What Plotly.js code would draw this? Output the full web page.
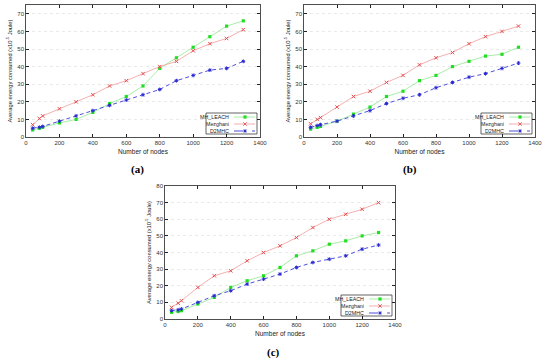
<!DOCTYPE html>
<html><head><meta charset="utf-8">
<script src="https://cdn.plot.ly/plotly-3.0.1.min.js"></script>
<style>html,body{margin:0;padding:0;background:#fff}#c{width:550px;height:361px}</style>
</head><body><div id="c"></div>
<script>
const nodes = [40, 80, 100, 200, 300, 400, 500, 600, 700, 800, 900, 1000, 1100, 1200, 1300];
const seriesNames = ["MH_LEACH", "Mezghani", "D2MHC"];
const panelLabels = ["(a)", "(b)", "(c)"];
const xTitle = "Number of nodes";
const yTitle = "Average energy consumed (x10<sup>-5</sup> Joule)";

const mhLeachA  = [4, 5, 5.5, 8, 10, 14, 19, 23, 29, 39, 45, 51, 57, 63, 66];
const mezghaniA = [7, 10.5, 12, 16, 20, 24, 29, 32, 36, 40, 43, 49, 53, 56, 61];
const d2mhcA    = [5, 5.5, 6, 9, 12, 15, 18, 21, 24, 27, 32, 35, 38, 39, 43];

const mhLeachB  = [4.5, 5.5, 6, 9, 13, 17, 23, 26, 32, 35, 40, 43, 46, 47, 51];
const mezghaniB = [7.5, 10, 11, 17, 23, 26, 31, 35, 41, 45, 48, 53, 57, 60, 63];
const d2mhcB    = [5.5, 6.5, 7, 9, 12, 15, 19, 22, 24, 28, 31, 34, 36, 39, 42];

const mhLeachC  = [4, 4.5, 5, 9, 13, 19, 23, 26, 31, 38, 41, 45, 47, 50, 52];
const mezghaniC = [7, 9.5, 11, 19, 26, 29, 35, 40, 44, 49, 55, 60, 63, 66, 70];
const d2mhcC    = [5, 5.5, 6, 10, 14, 17, 21, 24, 27, 31, 34, 36, 38, 42, 44.5];

const W = 550, H = 361;
const FONT = 'Liberation Sans, Arial, sans-serif';
const styles = [
  {line:{color:'#8fe88f', width:0.8, dash:'solid'}, marker:{color:'#22dd22', symbol:'square', size:3.2}},
  {line:{color:'#f29a9a', width:0.8, dash:'solid'}, marker:{color:'#e55050', symbol:'x-thin-open', size:3.5, line:{width:1,color:'#e55050'}}},
  {line:{color:'#3a3ad8', width:0.9, dash:'4px,3px'}, marker:{color:'#2a2ad0', symbol:'asterisk-open', size:3.2, line:{width:1,color:'#2a2ad0'}}}
];
const panels = [
  {data:[mhLeachA, mezghaniA, d2mhcA], px:[26,260], py:[5,137], yr:[0,75], yt:70, lab:[137,170]},
  {data:[mhLeachB, mezghaniB, d2mhcB], px:[304,535], py:[5,137], yr:[0,75], yt:70, lab:[410,170]},
  {data:[mhLeachC, mezghaniC, d2mhcC], px:[165,395], py:[186,319], yr:[0,80], yt:80, lab:[273,352]}
];
const traces = [], annotations = [], shapes = [];
const layout = {width:W, height:H, margin:{l:0,r:0,t:0,b:0}, paper_bgcolor:'#fff', plot_bgcolor:'#fff',
  showlegend:false, font:{family:FONT, size:6, color:'#333'}};
const fx = p => p / W, fy = p => 1 - p / H;
const seg = (x0, y0, x1, y1, color) => shapes.push({type:'line', xref:'paper', yref:'paper',
  x0:fx(x0), x1:fx(x1), y0:fy(y0), y1:fy(y1), line:{color:color, width:0.9}, layer:'above'});

panels.forEach((p, i) => {
  const s = i === 0 ? '' : String(i + 1);
  p.data.forEach((ys, k) => {
    traces.push({x:nodes, y:ys, type:'scatter', mode:'lines+markers', name:seriesNames[k],
      xaxis:'x'+s, yaxis:'y'+s, line:styles[k].line, marker:styles[k].marker, hoverinfo:'skip'});
  });
  const yv = []; for (let v = 0; v <= p.yt; v += 10) yv.push(v);
  layout['xaxis'+s] = {domain:[fx(p.px[0]), fx(p.px[1])], anchor:'y'+s, range:[0,1400], tickvals:[0,200,400,600,800,1000,1200,1400],
    ticks:'inside', ticklen:3, tickcolor:'#222', showline:true, linecolor:'#222', linewidth:0.8, mirror:'ticks',
    showgrid:false, zeroline:false, tickfont:{family:FONT, size:6, color:'#333'},
    title:{text:xTitle, font:{family:FONT, size:6.5, color:'#222'}, standoff:4}};
  layout['yaxis'+s] = {domain:[fy(p.py[1]), fy(p.py[0])], anchor:'x'+s, range:p.yr, tickvals:yv,
    ticks:'inside', ticklen:3, tickcolor:'#222', showline:true, linecolor:'#222', linewidth:0.8, mirror:'ticks',
    showgrid:true, gridcolor:'#dcdcdc', griddash:'dot', gridwidth:0.6, zeroline:false, tickfont:{family:FONT, size:6, color:'#333'},
    title:{text:yTitle, font:{family:FONT, size:5.8, color:'#222'}, standoff:4}};
  annotations.push({xref:'paper', yref:'paper', x:fx(p.lab[0]), y:fy(p.lab[1]), text:'<b>'+panelLabels[i]+'</b>',
    showarrow:false, xanchor:'center', yanchor:'middle', font:{family:'Liberation Serif, serif', size:11, color:'#000'}});
  // legend box
  const bx1 = p.px[1] - 3, by1 = p.py[1] - 3, bx0 = bx1 - 51, by0 = by1 - 21;
  shapes.push({type:'rect', xref:'paper', yref:'paper', x0:fx(bx0), x1:fx(bx1), y0:fy(by1), y1:fy(by0),
    line:{color:'#222', width:0.7}, fillcolor:'rgba(255,255,255,1)', layer:'above'});
  seriesNames.forEach((nm, k) => {
    const ry = by0 + 4 + k * 7;
    annotations.push({xref:'paper', yref:'paper', x:fx(bx0 + 25), y:fy(ry), text:nm, showarrow:false,
      xanchor:'right', yanchor:'middle', font:{family:FONT, size:5.3, color:'#222'}});
    shapes.push({type:'line', xref:'paper', yref:'paper', x0:fx(bx0 + 28), x1:fx(bx0 + 49), y0:fy(ry), y1:fy(ry),
      line:{color:styles[k].line.color, width:styles[k].line.width, dash:k===2?'dash':'solid'}, layer:'above'});
    const mx = bx0 + 39, c = styles[k].marker.color;
    if (k === 0) {
      shapes.push({type:'rect', xref:'paper', yref:'paper', x0:fx(mx-1.6), x1:fx(mx+1.6), y0:fy(ry+1.6), y1:fy(ry-1.6),
        line:{width:0}, fillcolor:c, layer:'above'});
    } else if (k === 1) {
      seg(mx-1.7, ry-1.7, mx+1.7, ry+1.7, c); seg(mx-1.7, ry+1.7, mx+1.7, ry-1.7, c);
    } else {
      seg(mx-1.8, ry, mx+1.8, ry, c); seg(mx, ry-1.8, mx, ry+1.8, c);
      seg(mx-1.3, ry-1.3, mx+1.3, ry+1.3, c); seg(mx-1.3, ry+1.3, mx+1.3, ry-1.3, c);
    }
  });
});
layout.annotations = annotations;
layout.shapes = shapes;
Plotly.newPlot('c', traces, layout, {staticPlot:true, displayModeBar:false});
</script></body></html>
